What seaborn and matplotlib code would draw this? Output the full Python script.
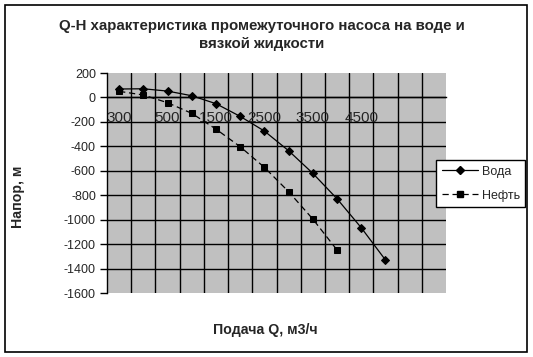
import matplotlib
matplotlib.use("Agg")
import matplotlib.pyplot as plt
import seaborn as sns
import pandas as pd
from matplotlib.patches import Rectangle
from matplotlib.lines import Line2D

# ---- data ----
categories = ["300", "400", "500", "1000", "1500", "2000", "2500",
              "3000", "3500", "4000", "4500", "5000", "", ""]
shown_labels = ["300", "", "500", "", "1500", "", "2500",
                "", "3500", "", "4500", "", "", ""]
water = [69, 71, 52, 14, -51, -155, -275, -436, -621, -829, -1066, -1330]
oil = [50, 20, -43, -130, -259, -403, -572, -771, -995, -1248]
y_ticks = [200, 0, -200, -400, -600, -800, -1000, -1200, -1400, -1600]

title = "Q-H характеристика промежуточного насоса на воде и\nвязкой жидкости"
xlabel = "Подача Q, м3/ч"
ylabel = "Напор, м"

sns.set_theme(style="white")
plt.rcParams["font.family"] = ["Liberation Sans", "DejaVu Sans"]

W, H = 533, 357
fig = plt.figure(figsize=(W / 100, H / 100), dpi=100)
fig.patch.set_facecolor("white")

L, R, T, B = 107, 446, 73, 293
ax = fig.add_axes([L / W, 1 - B / H, (R - L) / W, (B - T) / H])
ax.set_facecolor("#C0C0C0")

df_w = pd.DataFrame({"x": list(range(len(water))), "y": water})
df_o = pd.DataFrame({"x": list(range(len(oil))), "y": oil})

sns.lineplot(data=df_w, x="x", y="y", ax=ax, color="black", lw=0.9,
             marker="D", markersize=4, markeredgecolor="black")
sns.lineplot(data=df_o, x="x", y="y", ax=ax, color="black", lw=0.9,
             marker="s", markersize=4.5, markeredgecolor="black",
             linestyle=(0, (5, 3)))

n = len(categories)
ax.set_xlim(-0.5, n - 0.5)
ax.set_ylim(-1600, 200)

# gridlines
for k in range(n - 1):
    ax.axvline(k + 0.5, color="black", lw=1.0, zorder=0.5)
for v in y_ticks[1:-1]:
    ax.axhline(v, color="black", lw=1.0, zorder=0.5)

ax.set_yticks(y_ticks)
ax.set_yticklabels([str(v) for v in y_ticks], fontsize=9)
ax.tick_params(axis="y", direction="out", length=5, width=1, color="black",
               left=True, pad=3)

ax.set_xticks(range(n))
ax.set_xticklabels(shown_labels, fontsize=9)
ax.tick_params(axis="x", length=0, pad=10, bottom=True)
for lab in ax.get_xticklabels():
    lab.set_horizontalalignment("center")

ax.spines["bottom"].set_position(("data", 0))
ax.spines["bottom"].set_color("black")
ax.spines["bottom"].set_linewidth(1)
ax.spines["left"].set_color("black")
ax.spines["left"].set_linewidth(1)
ax.spines["top"].set_visible(False)
ax.spines["right"].set_visible(False)
ax.set_xlabel("")
ax.set_ylabel("")
ax.grid(False)

# titles / labels
fig.text(262 / W, 1 - 35 / H, title, ha="center", va="center",
         fontsize=10.8, fontweight="bold", linespacing=1.35)
fig.text(265 / W, 1 - 330 / H, xlabel, ha="center", va="center",
         fontsize=10.2, fontweight="bold")
fig.text(18 / W, 1 - 197 / H, ylabel, ha="center", va="center",
         fontsize=10.2, fontweight="bold", rotation=90)

# legend
handles = [
    Line2D([0], [0], color="black", lw=0.9, marker="D", markersize=4),
    Line2D([0], [0], color="black", lw=0.9, marker="s", markersize=4.5,
           linestyle=(0, (5, 3))),
]
leg = fig.legend(handles, ["Вода", "Нефть"], loc="upper left",
                 bbox_to_anchor=(436 / W, 1 - 160 / H), fontsize=9,
                 frameon=True, fancybox=False, borderpad=0.45,
                 handlelength=2.9, handletextpad=0.3, labelspacing=0.95,
                 borderaxespad=0)
leg.get_frame().set_edgecolor("black")
leg.get_frame().set_linewidth(1)
leg.get_frame().set_facecolor("white")
leg.get_frame().set_alpha(1)

# chart border
fig.patches.append(Rectangle((5 / W, 1 - 352 / H), 522 / W, 347 / H,
                             transform=fig.transFigure, fill=False,
                             edgecolor="black", lw=1.2))

fig.savefig("out.png", dpi=100)
